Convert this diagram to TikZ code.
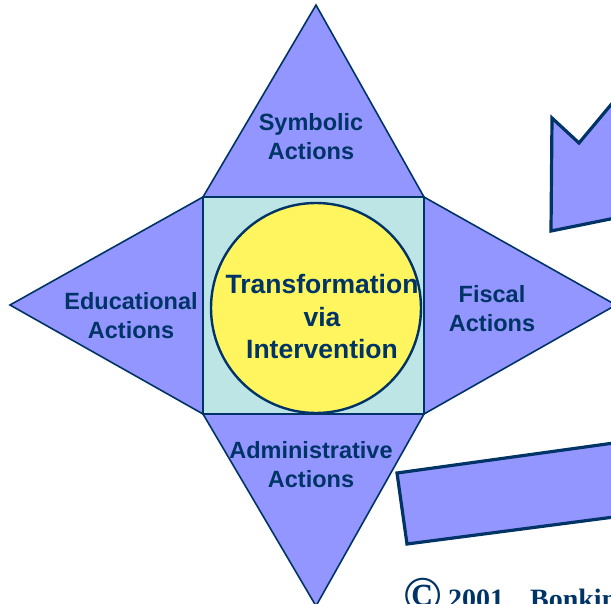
\documentclass[tikz,border=0pt]{standalone}
\usepackage{fontspec}
\setmainfont{Liberation Sans}
\newfontfamily\serifbold{Liberation Serif}
\definecolor{navy}{RGB}{0,51,102}
\definecolor{peri}{RGB}{148,150,255}
\definecolor{paleteal}{RGB}{189,229,229}
\definecolor{sun}{RGB}{255,245,95}
\tikzset{
  tri/.style={fill=peri, draw=navy, line width=1.6pt, line join=miter},
  bigarrow/.style={fill=peri, draw=navy, line width=3.2pt, line join=miter},
  lbl/.style={text=navy, font=\bfseries\fontsize{23.5}{29}\selectfont, align=center, inner sep=0pt},
  ctr/.style={text=navy, font=\bfseries\fontsize{26.5}{32.5}\selectfont, align=center, inner sep=0pt}
}
\begin{document}
\begin{tikzpicture}[x=1pt,y=-1pt]
\useasboundingbox (0,0) rectangle (611,603);
\clip (0,0) rectangle (611,603);
% corners of the square
\coordinate (tl) at (203,197);
\coordinate (tr) at (424,197);
\coordinate (bl) at (203,414);
\coordinate (br) at (424,414);
% apexes
\coordinate (apT) at (316,5);
\coordinate (apL) at (10,305);
\coordinate (apR) at (616,305);
\coordinate (apB) at (316,606);
% triangles
\draw[tri] (tl) -- (apT) -- (tr) -- cycle;
\draw[tri] (tl) -- (apL) -- (bl) -- cycle;
\draw[tri] (tr) -- (apR) -- (br) -- cycle;
\draw[tri] (bl) -- (apB) -- (br) -- cycle;
% square
\node[draw=navy, fill=paleteal, line width=1.6pt, minimum width=221pt, minimum height=217pt, inner sep=0pt] (sq) at (313.5,305.5) {};
% circle
\node[circle, draw=navy, fill=sun, line width=2.4pt, minimum size=210pt, inner sep=0pt] (circ) at (316,308) {};
% right-hand arrows (cropped)
\draw[bigarrow] (552,118) -- (579,143) -- (640,70) -- (640,213) -- (551,231) -- cycle;
\draw[bigarrow] (397,473) -- (650,438) -- (660,511) -- (407,544) -- cycle;
% labels
\node[lbl] (sym) at (311,137) {Symbolic\\Actions};
\node[lbl] (edu) at (131,316) {Educational\\Actions};
\node[lbl] (fis) at (492,309) {Fiscal\\Actions};
\node[lbl] (adm) at (311,465) {Administrative\\Actions};
\node[ctr] (tvi) at (322,317) {Transformation\\via\\Intervention};
% copyright (cropped by the picture's edge, as in the reference)
\node[anchor=base west, text=navy, font=\serifbold\bfseries\fontsize{28}{34}\selectfont, inner sep=0pt] (copy) at (403,608) {\makebox[45pt][l]{\raisebox{-4pt}{\scalebox{1.12}{\fontsize{46}{46}\selectfont ©}}}\makebox[82pt][l]{2001,}Bonkin};
\end{tikzpicture}
\end{document}
